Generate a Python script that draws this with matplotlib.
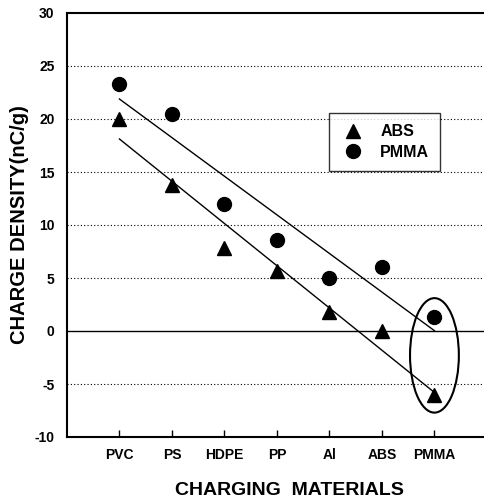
import numpy as np
from matplotlib import pyplot as plt
from matplotlib.patches import Ellipse

plt.rcParams['font.family'] = ['Liberation Sans', 'DejaVu Sans']
plt.rcParams['font.weight'] = 'bold'

materials = ['PVC', 'PS', 'HDPE', 'PP', 'Al', 'ABS', 'PMMA']
abs_charge = [20.0, 13.8, 7.8, 5.7, 1.8, 0.0, -6.0]
pmma_charge = [23.3, 20.5, 12.0, 8.6, 5.0, 6.0, 1.3]
y_ticks = [-10, -5, 0, 5, 10, 15, 20, 25, 30]

x = np.arange(1, len(materials) + 1)

fig = plt.figure(figsize=(4.85, 5), dpi=100)
ax = fig.add_axes([0.138, 0.126, 0.866, 0.848])

# grid lines
for v in y_ticks[1:-1]:
    if v == 0:
        ax.axhline(v, color='k', lw=1.0, zorder=1)
    else:
        ax.axhline(v, color='k', lw=0.8, ls=(0, (1, 2)), zorder=1)

# least squares lines through each series
for ys in (abs_charge, pmma_charge):
    k, b = np.polyfit(x, ys, 1)
    ax.plot(x[[0, -1]], k * x[[0, -1]] + b, 'k-', lw=1.0, zorder=2)

ax.plot(x, abs_charge, 'k^', ms=10, ls='none', label='ABS', zorder=3)
ax.plot(x, pmma_charge, 'ko', ms=10, ls='none', label='PMMA', zorder=3)

ax.add_patch(Ellipse((7, -2.3), 0.93, 10.8, fill=False, ec='k', lw=1.5, zorder=4))

ax.set_xlim(0, 8)
ax.set_ylim(-10, 30)
ax.set_xticks(x)
ax.set_xticklabels(materials, fontsize=10, fontweight='bold')
ax.set_yticks(y_ticks)
ax.set_yticklabels([str(v) for v in y_ticks], fontsize=10, fontweight='bold')
ax.tick_params(axis='x', direction='in', length=5, pad=8, width=1)
ax.tick_params(axis='y', length=0, pad=9)
ax.spines['right'].set_visible(False)
for s in ('left', 'bottom', 'top'):
    ax.spines[s].set_linewidth(1.5)

ax.set_ylabel('CHARGE DENSITY(nC/g)', fontsize=14.5, fontweight='bold', labelpad=4)
ax.set_xlabel('CHARGING  MATERIALS', fontsize=14, fontweight='bold', labelpad=14)
ax.xaxis.label.set_x(0.53)

leg = ax.legend(loc='upper left', bbox_to_anchor=(0.624, 0.764), borderaxespad=0,
                frameon=True, fancybox=False, edgecolor='k', handletextpad=0.9,
                borderpad=0.7, labelspacing=0.35, handlelength=1.6,
                prop={'weight': 'bold', 'size': 11.5})
leg.get_frame().set_linewidth(1.0)

fig.savefig('out.png', dpi=100)
